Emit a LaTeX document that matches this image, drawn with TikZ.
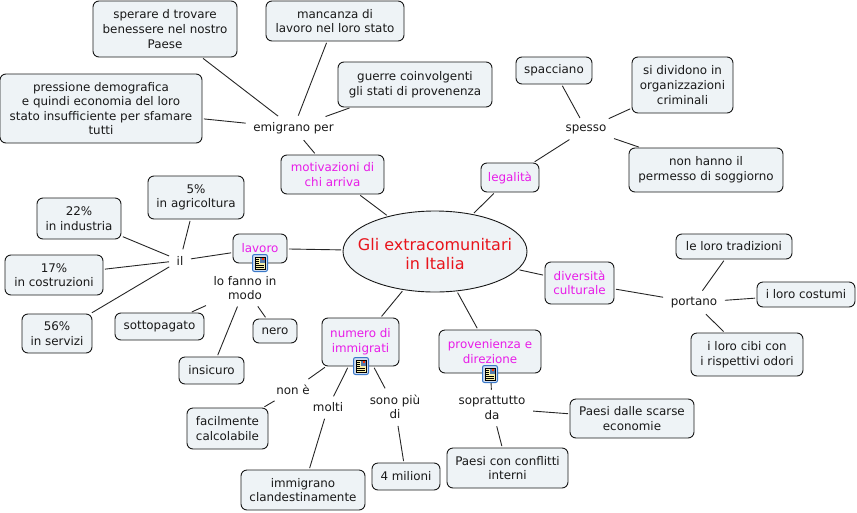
\documentclass[tikz,border=0pt]{standalone}
\usepackage{fontspec}
\setmainfont{DejaVu Sans}
\usetikzlibrary{shapes.geometric}
\definecolor{boxfill}{HTML}{EEF3F6}
\definecolor{iconblue}{HTML}{3A78C8}
\definecolor{iconyellow}{HTML}{F6EFA8}
\definecolor{topictext}{HTML}{E81CE8}
\definecolor{centretext}{HTML}{E8141C}
\tikzset{
  concept/.style={draw=black!90, fill=boxfill, rounded corners=6pt, line width=0.9pt, align=center, inner sep=0pt, font=\fontsize{11.9}{14.6}\selectfont, text=black!90},
  topic/.style={concept, text=topictext},
  linklabel/.style={align=center, inner xsep=6pt, inner ysep=5pt, font=\fontsize{11.9}{14.6}\selectfont, text=black!90},
  link/.style={draw=black!85, line width=0.9pt, shorten >=1.5pt, shorten <=1.5pt},
  iconframe/.style={draw=iconblue, fill=iconblue!25, rounded corners=2pt, line width=1pt, minimum width=15pt, minimum height=17pt, inner sep=0pt}
}
\newcommand{\noteicon}[3]{
  \node[iconframe] (#1) at (#2,#3) {};
  \begin{scope}[shift={(#2,#3)}]
    \fill[iconyellow, draw=black, line width=0.6pt] (-5,-6) rectangle (5,6);
    \fill[iconblue!60!gray] (-0.5,-5.5) rectangle (4.5,-0.5);
    \fill[red!60!orange] (2,-5) rectangle (4,-3);
    \foreach \yy in {-4,-2,0} \draw[black, line width=0.5pt] (-4,\yy) -- (-1.5,\yy);
    \foreach \yy in {2,4} \draw[black, line width=0.5pt] (-4,\yy) -- (4,\yy);
  \end{scope}
}
\begin{document}
\begin{tikzpicture}[x=1pt,y=-1pt]
\useasboundingbox (0,0) rectangle (857,512);
% centre
\node[draw=black!90, fill=boxfill, ellipse, line width=0.9pt, minimum width=184pt, minimum height=81pt, inner xsep=-12pt, inner ysep=-6pt, align=center, text=centretext, font=\fontsize{16}{19}\selectfont] (centre) at (435,251.5) {\rule{0pt}{18pt}Gli extracomunitari\\in Italia};
% main topics
\node[topic, minimum width=103pt, minimum height=39pt] (motivazioni) at (332.5,174.5) {motivazioni di\\chi arriva};
\node[topic, minimum width=58pt, minimum height=29pt] (legalita) at (510,177.5) {legalità};
\node[topic, minimum width=69pt, minimum height=42pt] (diversita) at (579.5,283) {diversità\\culturale};
\node[topic, minimum width=54pt, minimum height=29pt] (lavoro) at (260,248.5) {lavoro};
\node[topic, minimum width=77pt, minimum height=48pt] (numero) at (360.5,342) {numero di\\immigrati};
\node[topic, minimum width=102pt, minimum height=43pt] (provenienza) at (490,351.5) {provenienza e\\direzione};
% link labels
\node[linklabel] (emigrano) at (293.5,128) {emigrano per};
\node[linklabel] (spesso) at (586,129) {spesso};
\node[linklabel] (portano) at (694,302.5) {portano};
\node[linklabel] (il) at (180,260.5) {il};
\node[linklabel] (modo) at (245,288) {lo fanno in\\modo};
\node[linklabel] (none) at (293,390) {non è};
\node[linklabel] (molti) at (328,407.5) {molti};
\node[linklabel] (sono) at (395,407) {sono più\\di};
\node[linklabel] (soprattutto) at (492,408) {soprattutto\\da};
% leaves
\node[concept, minimum width=144pt, minimum height=56pt] (sperare) at (165,29) {sperare d trovare\\benessere nel nostro\\Paese};
\node[concept, minimum width=138pt, minimum height=40pt] (mancanza) at (335,21) {mancanza di\\lavoro nel loro stato};
\node[concept, minimum width=154pt, minimum height=45pt] (guerre) at (415,84.5) {guerre coinvolgenti\\gli stati di provenenza};
\node[concept, minimum width=202pt, minimum height=69pt] (pressione) at (101,108.5) {pressione demografica\\e quindi economia del loro\\stato insufficiente per sfamare\\tutti};
\node[concept, minimum width=76pt, minimum height=27pt] (spacciano) at (554,70.5) {spacciano};
\node[concept, minimum width=101pt, minimum height=56pt] (dividono) at (682.5,85) {si dividono in\\organizzazioni\\criminali};
\node[concept, minimum width=154pt, minimum height=44pt] (permesso) at (706,170) {non hanno il\\permesso di soggiorno};
\node[concept, minimum width=116pt, minimum height=25pt] (tradizioni) at (734,246.5) {le loro tradizioni};
\node[concept, minimum width=98pt, minimum height=25pt] (costumi) at (806,294.5) {i loro costumi};
\node[concept, minimum width=112pt, minimum height=43pt] (cibi) at (747,354.5) {i loro cibi con\\i rispettivi odori};
\node[concept, minimum width=96pt, minimum height=43pt] (agricoltura) at (196,197.5) {5\%\\in agricoltura};
\node[concept, minimum width=84pt, minimum height=41pt] (industria) at (79,218.5) {22\%\\in industria};
\node[concept, minimum width=98pt, minimum height=40pt] (costruzioni) at (54,275) {17\%\\in costruzioni};
\node[concept, minimum width=70pt, minimum height=39pt] (servizi) at (57,333.5) {56\%\\in servizi};
\node[concept, minimum width=89pt, minimum height=27pt] (sottopagato) at (159.5,326.5) {sottopagato};
\node[concept, minimum width=65pt, minimum height=27pt] (insicuro) at (211.5,370.5) {insicuro};
\node[concept, minimum width=44pt, minimum height=24pt] (nero) at (275,331) {nero};
\node[concept, minimum width=81pt, minimum height=41pt] (calcolabile) at (227.5,428.5) {facilmente\\calcolabile};
\node[concept, minimum width=124pt, minimum height=40pt] (clandestini) at (303,490) {immigrano\\clandestinamente};
\node[concept, minimum width=68pt, minimum height=27pt] (milioni) at (406,476.5) {4 milioni};
\node[concept, minimum width=121pt, minimum height=40pt] (conflitti) at (507.5,468) {Paesi con conflitti\\interni};
\node[concept, minimum width=124pt, minimum height=39pt] (economie) at (632,418.5) {Paesi dalle scarse\\economie};
% connectors
\draw[link] (emigrano) -- (sperare);
\draw[link] (emigrano) -- (mancanza);
\draw[link] (emigrano) -- (guerre);
\draw[link] (emigrano) -- (pressione);
\draw[link] (emigrano) -- (motivazioni);
\draw[link] (motivazioni) -- (centre);
\draw[link] (legalita) -- (centre);
\draw[link] (legalita) -- (spesso);
\draw[link] (spesso) -- (spacciano);
\draw[link] (spesso) -- (dividono);
\draw[link] (spesso) -- (permesso);
\draw[link] (diversita) -- (centre);
\draw[link] (diversita) -- (portano);
\draw[link] (portano) -- (tradizioni);
\draw[link] (portano) -- (costumi);
\draw[link] (portano) -- (cibi);
\draw[link] (lavoro) -- (centre);
\draw[link] (lavoro) -- (il);
\draw[link] (il) -- (agricoltura);
\draw[link] (il) -- (industria);
\draw[link] (il) -- (costruzioni);
\draw[link] (il) -- (servizi);
\draw[link] (modo) -- (sottopagato);
\draw[link] (modo) -- (insicuro);
\draw[link] (modo) -- (nero);
\draw[link] (numero) -- (centre);
\draw[link] (numero) -- (none);
\draw[link] (none) -- (calcolabile);
\draw[link] (numero) -- (molti);
\draw[link] (molti) -- (clandestini);
\draw[link] (numero) -- (sono);
\draw[link] (sono) -- (milioni);
\draw[link] (provenienza) -- (centre);
\draw[link] (provenienza) -- (soprattutto);
\draw[link] (soprattutto) -- (economie);
\draw[link] (soprattutto) -- (conflitti);
% icons
\noteicon{iconlavoro}{260}{263}
\noteicon{iconnumero}{361}{366}
\noteicon{iconprovenienza}{490}{374}
\end{tikzpicture}
\end{document}
